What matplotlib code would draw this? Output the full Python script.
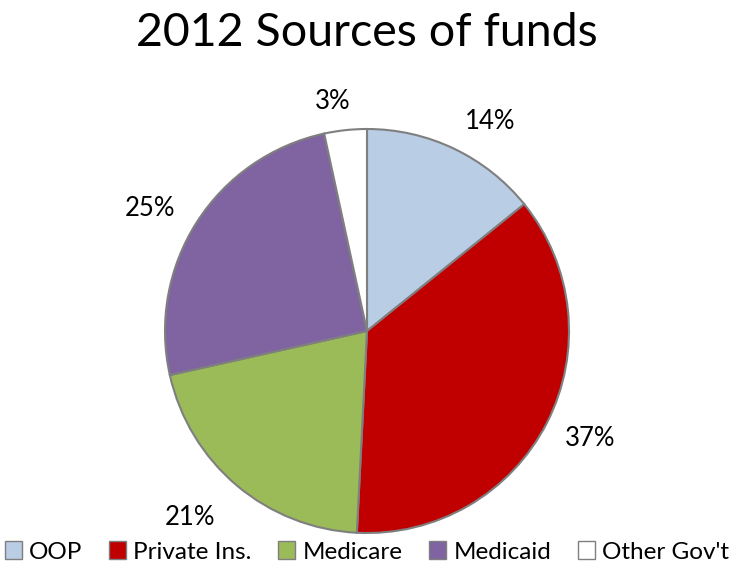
import matplotlib
matplotlib.use("Agg")
import matplotlib.pyplot as plt
from matplotlib.patches import Patch

categories = ["OOP", "Private Ins.", "Medicare", "Medicaid", "Other Gov't"]
shares = [14.2, 36.6, 20.7, 25.1, 3.4]
colors = ["#B9CDE5", "#C00000", "#9BBB59", "#8064A2", "#FFFFFF"]
title = "2012 Sources of funds"

# label placement (layout, in axes data units relative to pie radius)
label_pos = [(0.609, 1.035), (1.104, -0.530), (-0.876, -0.921),
             (-1.074, 0.604), (-0.168, 1.134)]

plt.rcParams['font.family'] = ['Lato', 'DejaVu Sans']

W, H = 734, 565
fig = plt.figure(figsize=(W/100, H/100), dpi=100)
cx, cy, r = 367, 331, 202
ax = fig.add_axes([(cx - r)/W, (H - cy - r)/H, 2*r/W, 2*r/H])
wedges, texts, autotexts = ax.pie(
    shares, colors=colors, startangle=90, counterclock=False,
    autopct=lambda p: f"{p:.0f}%", pctdistance=1.22,
    wedgeprops=dict(edgecolor="#7F7F7F", linewidth=1.5),
    textprops=dict(fontsize=18.5, color="black"))
for t, pos in zip(autotexts, label_pos):
    t.set_position(pos)
    t.set_ha('center')
    t.set_va('center')
ax.set_xlim(-1, 1)
ax.set_ylim(-1, 1)
ax.set_aspect('equal')

fig.text(0.5, 1 - 33/H, title, ha='center', va='center', fontsize=33.5)

handles = [Patch(facecolor=c, edgecolor="#7F7F7F", linewidth=1) for c in colors]
fig.legend(handles, categories, loc='center', bbox_to_anchor=(0.5, 1 - 552/H),
           ncol=5, frameon=False, fontsize=17.5, handlelength=0.7, handleheight=0.7,
           handletextpad=0.3, columnspacing=1.1, borderaxespad=0)

fig.savefig("out.png", dpi=100)
